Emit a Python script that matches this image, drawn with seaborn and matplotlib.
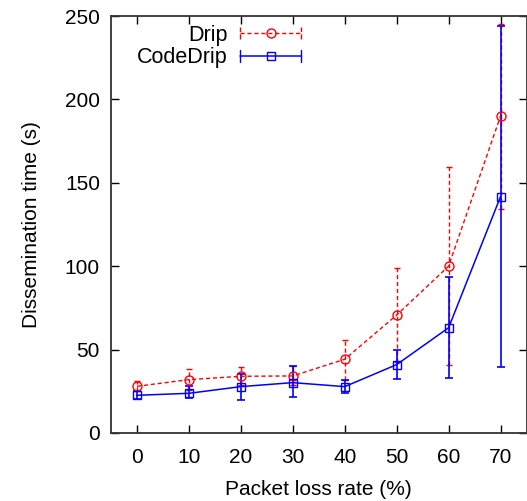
import numpy as np
import pandas as pd
import matplotlib
matplotlib.use("Agg")
import matplotlib.pyplot as plt
import seaborn as sns
from matplotlib.legend_handler import HandlerLine2D
from matplotlib.lines import Line2D

loss_rate = [0, 10, 20, 30, 40, 50, 60, 70]
drip_mean = [28, 32, 34, 34.2, 44.2, 70.7, 100, 190]
drip_low = [25, 26, 29, 29, 32, 42.4, 40.6, 134.5]
drip_high = [31.2, 38.2, 39.8, 40, 55.8, 98.7, 159.7, 245.2]
code_mean = [22.6, 23.8, 27.8, 30.2, 27.8, 41, 63.1, 141.7]
code_low = [20.5, 20.8, 19.8, 21.8, 23.8, 32.2, 33, 39.8]
code_high = [25, 28, 35.4, 40.3, 31.8, 49.8, 93.7, 244]

sns.set_style("ticks")
plt.rcParams["font.family"] = ["Liberation Sans", "DejaVu Sans"]
plt.rcParams["text.color"] = "black"
plt.rcParams["axes.labelcolor"] = "black"
plt.rcParams["xtick.color"] = "black"
plt.rcParams["ytick.color"] = "black"

fig = plt.figure(figsize=(5.27, 5.01), dpi=100)
ax = fig.add_axes([111/527, 1-433/501, (526.5-111)/527, (433-16)/501])

df = pd.DataFrame({
    "rate": loss_rate * 2,
    "time": drip_mean + code_mean,
    "series": ["Drip"] * 8 + ["CodeDrip"] * 8,
})

red = "#FF0000"
blue = "#0000FF"
fs = 15

# error bars
d_err = [np.array(drip_mean) - np.array(drip_low), np.array(drip_high) - np.array(drip_mean)]
c_err = [np.array(code_mean) - np.array(code_low), np.array(code_high) - np.array(code_mean)]
eb1 = ax.errorbar(loss_rate, drip_mean, yerr=d_err, fmt="none", ecolor=red,
                  elinewidth=1, capsize=2.3, capthick=1, zorder=2)
for lc in eb1[2]:
    lc.set_linestyle((0, (3, 2)))
eb2 = ax.errorbar(loss_rate, code_mean, yerr=c_err, fmt="none", ecolor=blue,
                  elinewidth=1.2, capsize=3, capthick=1.2, zorder=2)

sns.lineplot(data=df[df.series == "Drip"], x="rate", y="time", ax=ax, color=red,
             linestyle=(0, (3, 2)), linewidth=1, marker="o", markersize=6.5,
             markerfacecolor="none", markeredgecolor=red, markeredgewidth=1,
             legend=False, zorder=3)
sns.lineplot(data=df[df.series == "CodeDrip"], x="rate", y="time", ax=ax, color=blue,
             linestyle="-", linewidth=1.1, marker="s", markersize=6,
             markerfacecolor="none", markeredgecolor=blue, markeredgewidth=1,
             legend=False, zorder=3)

ax.set_xlim(-5, 75)
ax.set_ylim(0, 250)
ax.set_xticks(loss_rate)
ax.set_yticks([0, 50, 100, 150, 200, 250])
ax.set_xlabel("Packet loss rate (%)", fontsize=fs, labelpad=9, color="black")
ax.set_ylabel("Dissemination time (s)", fontsize=fs, labelpad=17, color="black")
ax.tick_params(direction="in", length=5.5, width=1, labelsize=fs,
               top=True, right=True, color="black", labelcolor="black")
ax.tick_params(axis="y", pad=8)
ax.tick_params(axis="x", pad=11)
for s in ax.spines.values():
    s.set_linewidth(1.3)
    s.set_color("#333333")


class HandlerErrLine(HandlerLine2D):
    def create_artists(self, legend, orig_handle, xdescent, ydescent,
                       width, height, fontsize, trans):
        artists = super().create_artists(legend, orig_handle, xdescent, ydescent,
                                         width, height, fontsize, trans)
        y = height / 2 - ydescent
        h = 4.5
        for x in (-xdescent, width - xdescent):
            cap = Line2D([x, x], [y - h, y + h], color=orig_handle.get_color(),
                         linewidth=1, linestyle=orig_handle.get_linestyle(),
                         transform=trans)
            artists.append(cap)
        return artists


h1 = Line2D([], [], color=red, linestyle=(0, (3, 2)), linewidth=1, marker="o",
            markersize=6.5, markerfacecolor="none", markeredgecolor=red)
h2 = Line2D([], [], color=blue, linestyle="-", linewidth=1.1, marker="s",
            markersize=6, markerfacecolor="none", markeredgecolor=blue)
leg = ax.legend([h1, h2], ["Drip", "CodeDrip"], loc="upper left",
                bbox_to_anchor=(0.036, 1.005), frameon=False, markerfirst=False,
                handlelength=2.8, handletextpad=0.6, labelspacing=0.08,
                fontsize=15.5, borderaxespad=0.2, borderpad=0.3,
                handler_map={Line2D: HandlerErrLine()})
for vp in leg._legend_handle_box.get_children():
    vp.align = "right"
for t in leg.get_texts():
    t.set_color("black")

fig.savefig("out.png", dpi=100)
